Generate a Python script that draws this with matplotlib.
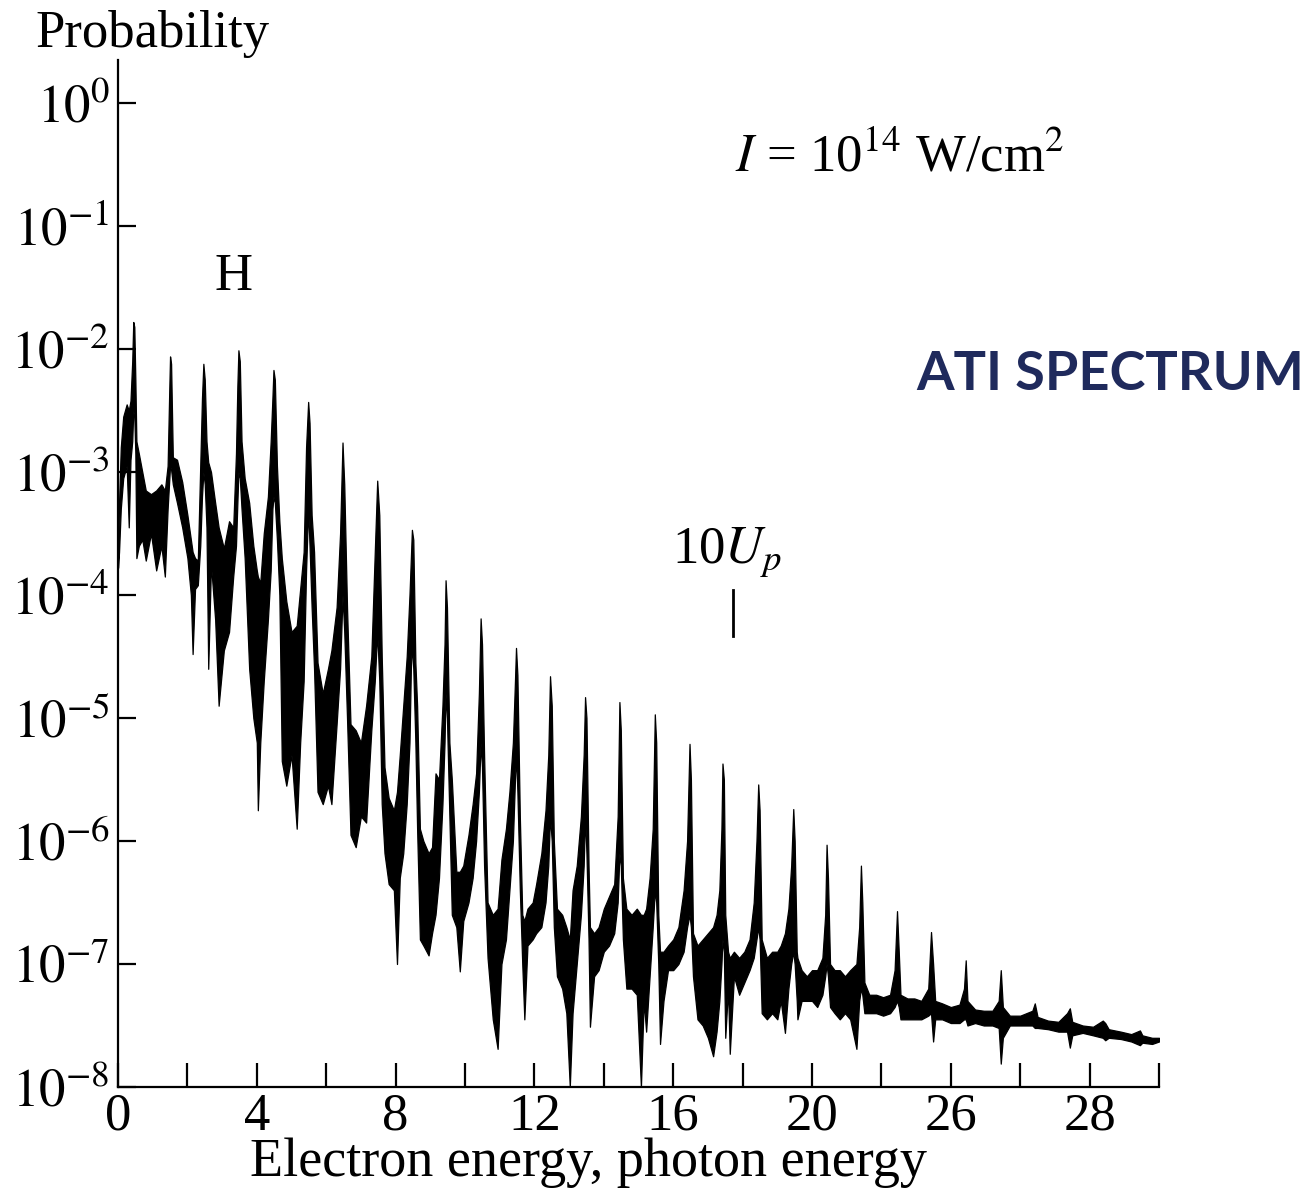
import numpy as np
import matplotlib
matplotlib.use("Agg")
import matplotlib.pyplot as plt
from matplotlib.ticker import NullLocator

plt.rcParams["font.family"] = ["Liberation Serif", "DejaVu Serif"]
plt.rcParams["mathtext.fontset"] = "stix"

# electron energy (photon units) and log10 of the lower / upper edge of the noisy trace
energy = [
    0.00, 0.03, 0.08, 0.15, 0.25, 0.31, 0.36, 0.41, 0.44, 0.47, 0.50, 0.53, 0.60, 0.70, 0.80, 0.95,
    1.10, 1.25, 1.35, 1.43, 1.48, 1.50, 1.53, 1.58, 1.70, 1.85, 2.00, 2.10, 2.15, 2.22, 2.30, 2.37,
    2.42, 2.46, 2.50, 2.55, 2.60, 2.68, 2.80, 2.90, 3.05, 3.20, 3.32, 3.40, 3.44, 3.47, 3.51, 3.56,
    3.65, 3.78, 3.90, 4.00, 4.03, 4.10, 4.20, 4.32, 4.40, 4.45, 4.48, 4.52, 4.58, 4.65, 4.72, 4.85,
    5.00, 5.15, 5.25, 5.35, 5.42, 5.48, 5.52, 5.58, 5.65, 5.75, 5.90, 6.05, 6.15, 6.30, 6.40, 6.47,
    6.52, 6.60, 6.70, 6.85, 7.00, 7.15, 7.30, 7.40, 7.47, 7.53, 7.60, 7.68, 7.80, 7.95, 8.04, 8.12,
    8.22, 8.32, 8.40, 8.44, 8.47, 8.51, 8.57, 8.62, 8.70, 8.80, 8.95, 9.05, 9.15, 9.25, 9.35, 9.41,
    9.44, 9.48, 9.55, 9.62, 9.75, 9.85, 9.95, 10.10, 10.22, 10.32, 10.40, 10.45, 10.49, 10.55, 10.65, 10.80,
    10.94, 11.05, 11.18, 11.28, 11.38, 11.44, 11.47, 11.51, 11.58, 11.65, 11.71, 11.80, 11.95, 12.05, 12.20, 12.32,
    12.40, 12.45, 12.50, 12.56, 12.65, 12.80, 12.92, 13.02, 13.10, 13.22, 13.34, 13.42, 13.46, 13.50, 13.56, 13.60,
    13.72, 13.85, 14.00, 14.15, 14.30, 14.40, 14.45, 14.49, 14.55, 14.65, 14.80, 14.95, 15.07, 15.15, 15.22, 15.32,
    15.41, 15.47, 15.51, 15.57, 15.62, 15.72, 15.85, 16.00, 16.15, 16.30, 16.40, 16.47, 16.51, 16.57, 16.70, 16.85,
    17.00, 17.15, 17.25, 17.33, 17.39, 17.42, 17.46, 17.50, 17.58, 17.63, 17.75, 17.90, 18.05, 18.20, 18.32, 18.40,
    18.45, 18.49, 18.55, 18.70, 18.85, 19.00, 19.10, 19.22, 19.32, 19.40, 19.46, 19.50, 19.56, 19.58, 19.70, 19.85,
    20.00, 20.15, 20.30, 20.38, 20.42, 20.46, 20.52, 20.65, 20.80, 20.95, 21.10, 21.28, 21.36, 21.41, 21.45, 21.51,
    21.65, 21.85, 22.05, 22.25, 22.38, 22.45, 22.50, 22.55, 22.75, 22.95, 23.15, 23.35, 23.43, 23.49, 23.55, 23.75,
    24.00, 24.25, 24.38, 24.43, 24.48, 24.70, 24.95, 25.20, 25.38, 25.44, 25.50, 25.70, 26.00, 26.35, 26.42, 26.50,
    26.80, 27.10, 27.35, 27.43, 27.50, 27.80, 28.10, 28.38, 28.45, 28.55, 28.90, 29.20, 29.45, 29.52, 29.80, 30.00,
]
lo_exp = [
    -3.78, -3.65, -3.30, -3.05, -2.95, -3.45, -2.90, -2.75, -2.50, -2.55, -2.85, -3.70, -3.60, -3.55, -3.72, -3.50,
    -3.80, -3.60, -3.85, -3.30, -3.05, -2.95, -2.98, -3.10, -3.25, -3.45, -3.70, -4.00, -4.48, -3.95, -3.92, -3.60,
    -3.20, -3.00, -3.10, -3.45, -4.60, -3.75, -4.20, -4.90, -4.45, -4.30, -3.85, -3.60, -3.25, -3.00, -3.05, -3.30,
    -3.70, -4.60, -5.00, -5.20, -5.75, -5.20, -4.70, -4.20, -3.80, -3.30, -3.20, -3.25, -3.55, -4.00, -5.35, -5.55,
    -5.30, -5.90, -5.20, -4.70, -3.80, -3.30, -3.60, -4.10, -4.60, -5.60, -5.70, -5.55, -5.70, -5.05, -4.60, -4.00,
    -4.30, -5.00, -5.95, -6.05, -5.80, -5.85, -5.10, -4.70, -4.30, -4.70, -5.70, -6.10, -6.35, -6.40, -7.00, -6.30,
    -6.10, -5.70, -5.20, -4.60, -4.40, -4.60, -5.20, -5.90, -6.80, -6.85, -6.93, -6.75, -6.60, -6.30, -5.70, -5.20,
    -4.80, -5.00, -5.80, -6.60, -6.70, -7.06, -6.65, -6.50, -6.30, -6.00, -5.60, -5.20, -5.40, -6.20, -6.95, -7.45,
    -7.69, -7.00, -6.80, -6.40, -6.00, -5.50, -5.30, -5.60, -6.40, -7.00, -7.45, -6.85, -6.80, -6.75, -6.70, -6.50,
    -6.20, -5.80, -6.00, -6.70, -7.10, -7.20, -7.40, -8.00, -7.40, -7.00, -6.60, -6.20, -5.80, -6.10, -6.80, -7.51,
    -7.10, -7.05, -6.90, -6.85, -6.75, -6.50, -6.10, -6.20, -6.80, -7.20, -7.20, -7.25, -8.00, -7.30, -7.55, -7.10,
    -6.70, -6.40, -6.50, -7.00, -7.65, -7.30, -7.05, -7.05, -7.00, -6.90, -6.70, -6.60, -6.70, -7.10, -7.45, -7.50,
    -7.60, -7.75, -7.55, -7.30, -7.00, -6.80, -6.90, -7.60, -7.20, -7.73, -7.10, -7.25, -7.15, -7.05, -6.95, -6.80,
    -6.70, -6.80, -7.40, -7.45, -7.40, -7.45, -7.30, -7.56, -7.20, -7.00, -6.90, -7.00, -7.30, -7.45, -7.30, -7.30,
    -7.30, -7.35, -7.25, -7.10, -7.00, -7.10, -7.35, -7.40, -7.45, -7.40, -7.45, -7.69, -7.30, -7.20, -7.25, -7.40,
    -7.40, -7.40, -7.42, -7.40, -7.35, -7.30, -7.35, -7.45, -7.45, -7.45, -7.45, -7.42, -7.40, -7.63, -7.45, -7.45,
    -7.48, -7.48, -7.45, -7.45, -7.50, -7.48, -7.50, -7.50, -7.52, -7.81, -7.60, -7.50, -7.50, -7.50, -7.52, -7.52,
    -7.53, -7.55, -7.55, -7.68, -7.58, -7.56, -7.58, -7.60, -7.62, -7.60, -7.61, -7.63, -7.66, -7.64, -7.65, -7.63,
]
hi_exp = [
    -3.72, -3.25, -2.80, -2.55, -2.45, -2.50, -2.42, -2.10, -1.78, -1.82, -2.25, -2.75, -2.85, -3.00, -3.15, -3.18,
    -3.15, -3.10, -3.15, -2.95, -2.30, -2.06, -2.12, -2.88, -2.90, -3.08, -3.35, -3.55, -3.65, -3.70, -3.72, -2.95,
    -2.40, -2.12, -2.25, -2.75, -2.92, -3.00, -3.25, -3.45, -3.62, -3.40, -3.45, -2.85, -2.30, -2.01, -2.10, -2.75,
    -3.05, -3.25, -3.60, -3.80, -3.85, -3.90, -3.50, -3.20, -2.75, -2.40, -2.17, -2.25, -2.95, -3.40, -3.70, -4.05,
    -4.30, -4.25, -3.95, -3.65, -2.80, -2.43, -2.60, -3.35, -3.65, -4.55, -4.80, -4.60, -4.45, -4.10, -3.50, -2.76,
    -3.10, -4.10, -5.05, -5.10, -5.20, -4.90, -4.50, -3.65, -3.07, -3.35, -4.50, -5.40, -5.65, -5.75, -5.60, -5.30,
    -4.90, -4.50, -4.00, -3.70, -3.47, -3.55, -4.55, -4.90, -5.90, -6.00, -6.10, -6.05, -5.45, -5.50, -4.90, -4.40,
    -3.88, -4.10, -5.20, -5.50, -6.25, -6.25, -6.20, -5.95, -5.70, -5.45, -4.80, -4.19, -4.40, -5.30, -6.50, -6.60,
    -6.55, -6.15, -5.90, -5.60, -5.20, -4.70, -4.43, -4.65, -5.80, -6.60, -6.65, -6.55, -6.50, -6.35, -6.10, -5.75,
    -5.30, -4.66, -4.90, -6.00, -6.55, -6.60, -6.70, -6.80, -6.40, -6.20, -5.80, -5.30, -4.83, -5.00, -6.20, -6.70,
    -6.75, -6.70, -6.55, -6.45, -6.35, -5.80, -4.87, -5.10, -6.30, -6.55, -6.60, -6.55, -6.60, -6.60, -6.55, -6.30,
    -5.90, -4.97, -5.20, -6.60, -6.90, -6.90, -6.85, -6.80, -6.70, -6.40, -6.00, -5.21, -5.50, -6.75, -6.85, -6.80,
    -6.75, -6.70, -6.60, -6.40, -5.90, -5.37, -5.50, -6.60, -6.90, -6.95, -6.90, -6.95, -6.90, -6.80, -6.50, -6.00,
    -5.54, -5.75, -6.80, -6.95, -6.90, -6.90, -6.85, -6.75, -6.55, -6.20, -5.74, -6.00, -6.90, -6.95, -7.05, -7.10,
    -7.05, -7.05, -6.95, -6.60, -6.03, -6.30, -7.00, -7.05, -7.05, -7.10, -7.05, -7.00, -6.70, -6.20, -6.50, -7.15,
    -7.25, -7.25, -7.27, -7.25, -7.05, -6.57, -6.90, -7.25, -7.28, -7.28, -7.30, -7.20, -6.74, -7.00, -7.30, -7.32,
    -7.35, -7.33, -7.20, -6.97, -7.30, -7.37, -7.38, -7.38, -7.30, -7.05, -7.35, -7.42, -7.42, -7.38, -7.32, -7.43,
    -7.46, -7.47, -7.40, -7.36, -7.47, -7.50, -7.51, -7.46, -7.48, -7.53, -7.55, -7.57, -7.54, -7.58, -7.60, -7.60,
]

x_ticks = [0, 2, 4, 6, 8, 10, 12, 14, 16, 18, 20, 22, 24, 26, 28, 30]
x_ticklabels = ["0", "", "4", "", "8", "", "12", "", "16", "", "20", "", "26", "", "28", ""]
y_decades = [0, -1, -2, -3, -4, -5, -6, -7, -8]
up10_energy = 17.72

W, H = 1310, 1194
fig = plt.figure(figsize=(W / 100, H / 100), dpi=100)
ax = fig.add_axes([118 / W, 1 - 1087 / H, (1159 - 118) / W, (1087 - 60) / H])

ax.fill_between(np.array(energy), 10.0 ** np.array(lo_exp), 10.0 ** np.array(hi_exp),
                color="black", lw=0.9)

ax.set_yscale("log")
ax.set_xlim(0, 30)
ax.set_ylim(1e-8, 10 ** 0.35)

ax.set_xticks(x_ticks)
ax.set_xticklabels(x_ticklabels)
ax.set_yticks([10.0 ** k for k in y_decades])
ax.set_yticklabels([r"$10^{%d}$" % k for k in y_decades])
ax.yaxis.set_minor_locator(NullLocator())

for side in ("top", "right"):
    ax.spines[side].set_visible(False)
for side in ("left", "bottom"):
    ax.spines[side].set_linewidth(1.6)
ax.tick_params(axis="both", direction="in", width=1.6, labelsize=38, colors="black")
ax.tick_params(axis="x", length=17, pad=4)
ax.tick_params(axis="y", length=13, pad=6)

# 10 Up marker
ax.plot([up10_energy, up10_energy], [10 ** -3.96, 10 ** -4.33], color="black", lw=2)
ax.text(15.97, 10 ** -3.74, r"10$U_p$", fontsize=38, ha="left", va="baseline")
ax.text(3.34, 10 ** -1.52, "H", fontsize=38, ha="center", va="baseline")

fig.text(35 / W, 1 - 47 / H, "Probability", fontsize=38, va="baseline")
fig.text(588 / W, 1 - 1176 / H, "Electron energy, photon energy", fontsize=39,
         ha="center", va="baseline")
fig.text(735 / W, 1 - 172 / H, r"$I$ = 10$^{14}$ W/cm$^{2}$", fontsize=38, va="baseline")
fig.text(1304 / W, 1 - 390 / H, "ATI SPECTRUM", fontsize=39, fontweight="bold",
         family=["Lato", "DejaVu Sans"], color="#1f2a5c", ha="right", va="baseline")

fig.savefig("out.png", dpi=100)
